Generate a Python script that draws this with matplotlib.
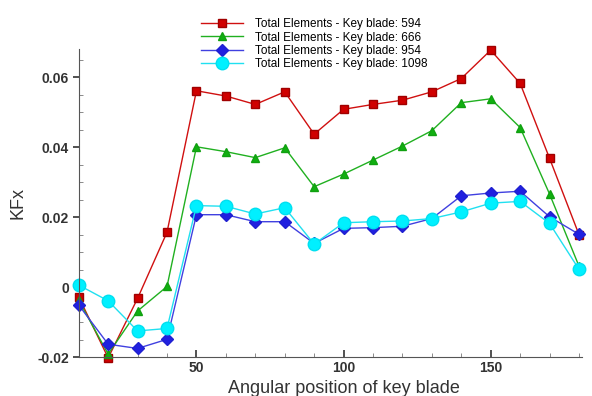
import matplotlib
matplotlib.use('Agg')
import matplotlib.pyplot as plt
from matplotlib.ticker import MultipleLocator
import numpy as np

plt.rcParams['font.family'] = ['Liberation Sans', 'DejaVu Sans']

angle = [10, 20, 30, 40, 50, 60, 70, 80, 90, 100, 110, 120, 130, 140, 150, 160, 170, 180]
kfx_594 = [-0.0028, -0.0202, -0.0032, 0.0157, 0.0561, 0.0546, 0.0522, 0.0558, 0.0437, 0.0508,
           0.0522, 0.0534, 0.0558, 0.0596, 0.0677, 0.0582, 0.0368, 0.0150]
kfx_666 = [-0.0038, -0.0191, -0.0068, 0.0002, 0.0401, 0.0387, 0.0370, 0.0398, 0.0287, 0.0323,
           0.0363, 0.0403, 0.0447, 0.0527, 0.0538, 0.0456, 0.0266, 0.0060]
kfx_954 = [-0.0051, -0.0163, -0.0175, -0.0149, 0.0207, 0.0207, 0.0187, 0.0187, 0.0125, 0.0168,
           0.0170, 0.0174, 0.0196, 0.0261, 0.0269, 0.0274, 0.0201, 0.0151]
kfx_1098 = [0.0006, -0.0039, -0.0125, -0.0118, 0.0233, 0.0231, 0.0209, 0.0227, 0.0123, 0.0184,
            0.0187, 0.0189, 0.0196, 0.0215, 0.0240, 0.0245, 0.0182, 0.0051]

fig = plt.figure(figsize=(5.92, 3.96), dpi=100)
ax = fig.add_axes([0.133, 0.098, 0.85, 0.778])

l1, = ax.plot(angle, kfx_594, color='#d01010', lw=1, marker='s', ms=6, clip_on=False,
              mfc='#d00000', mec='#a00000', label='Total Elements - Key blade: 594')
l2, = ax.plot(angle, kfx_666, color='#20b020', lw=1, marker='^', ms=6, clip_on=False,
              mfc='#10b010', mec='#10a010', label='Total Elements - Key blade: 666')
l3, = ax.plot(angle, kfx_954, color='#4040e0', lw=1, marker='D', ms=6, clip_on=False,
              mfc='#2020e0', mec='#2020d0', label='Total Elements - Key blade: 954')
l4, = ax.plot(angle, kfx_1098, color='#20e0f0', lw=1, marker='o', ms=9, clip_on=False,
              mfc='#00f0ff', mec='#00e0f0', label='Total Elements - Key blade: 1098')

ax.set_xlim(10, 181)
ax.set_ylim(-0.02, 0.068)
ax.set_xticks([50, 100, 150])
ax.set_yticks([-0.02, 0, 0.02, 0.04, 0.06])
ax.set_yticklabels(['-0.02', '0', '0.02', '0.04', '0.06'])
ax.xaxis.set_minor_locator(MultipleLocator(10))
ax.yaxis.set_minor_locator(MultipleLocator(0.005))

for s in ['top', 'right']:
    ax.spines[s].set_visible(False)
for s in ['left', 'bottom']:
    ax.spines[s].set_color('#555555')
    ax.spines[s].set_linewidth(0.8)

ax.tick_params(axis='x', which='major', direction='in', length=5, width=1.2,
               labelsize=10, colors='#333333', pad=3)
ax.tick_params(axis='x', which='minor', direction='in', length=3, width=0.6, colors='#777777')
ax.tick_params(axis='y', which='major', direction='out', length=4, width=1.2,
               labelsize=10, colors='#333333', pad=3)
ax.tick_params(axis='y', which='minor', direction='in', length=3, width=0.6, colors='#777777')
for lab in ax.get_xticklabels() + ax.get_yticklabels():
    lab.set_fontweight('bold')

ax.set_xlabel('Angular position of key blade', fontsize=13, color='#333333')
ax.xaxis.set_label_coords(0.527, -0.075)
ax.set_ylabel('KFx', fontsize=13, color='#333333', labelpad=8)

fig.legend(handles=[l1, l2, l3, l4], loc='upper left', bbox_to_anchor=(0.325, 0.975),
           frameon=False, fontsize=8.5, handlelength=3.6, handletextpad=1.0,
           labelspacing=0.12, borderaxespad=0.3)

fig.savefig('out.png', dpi=100)
